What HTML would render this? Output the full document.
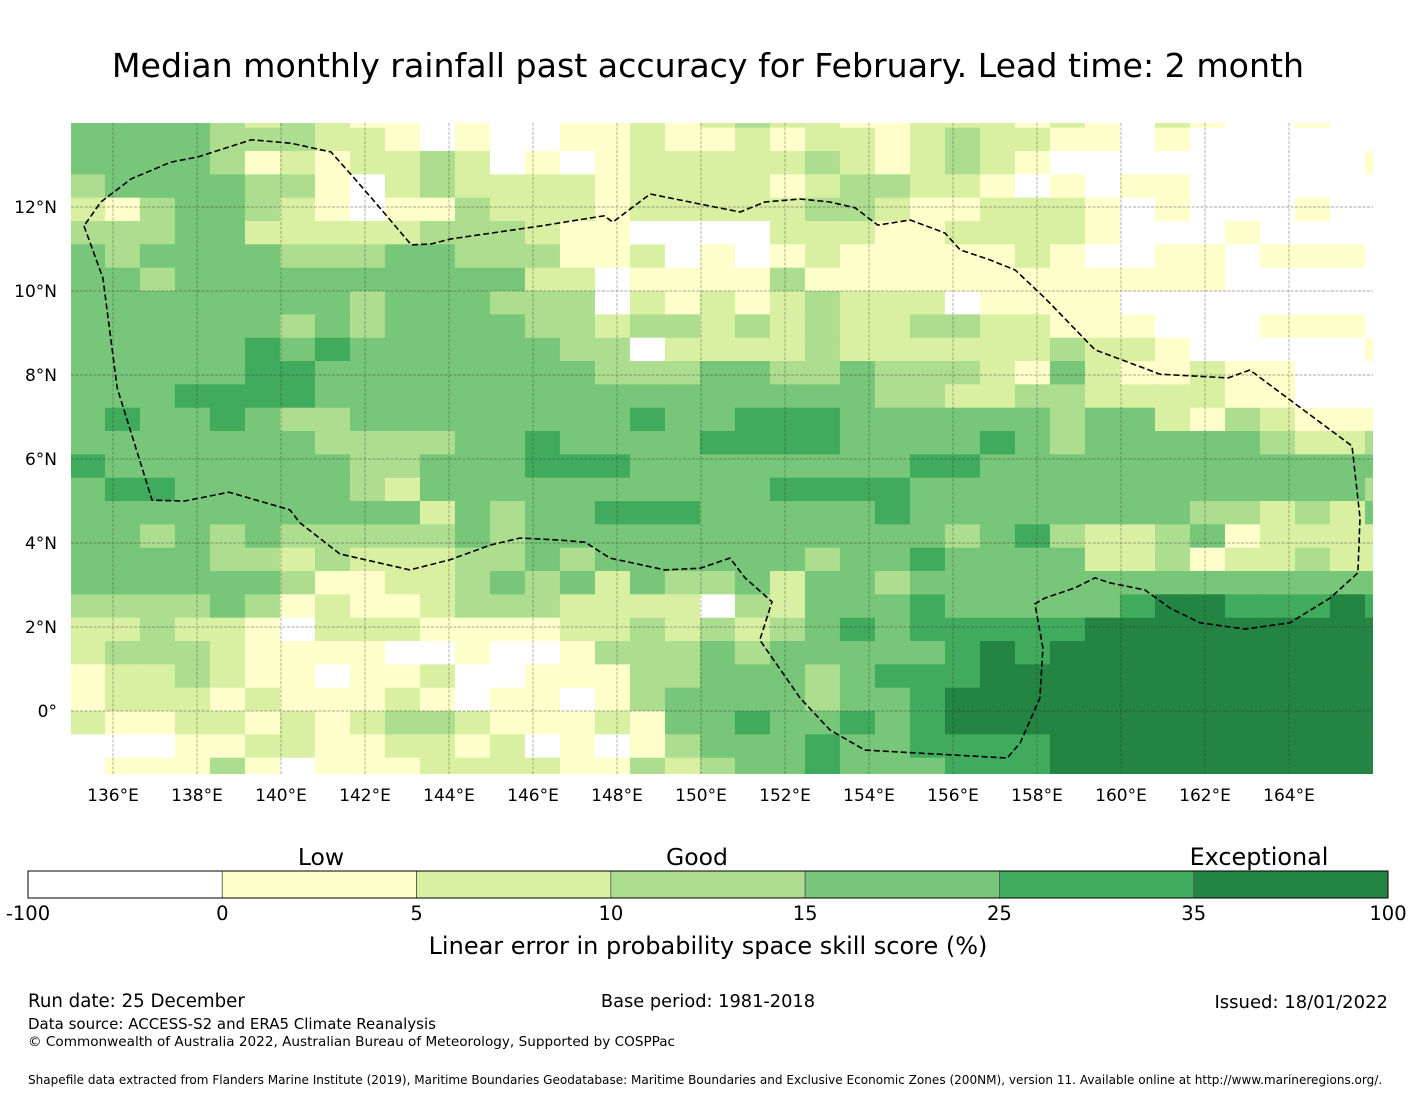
<!DOCTYPE html>
<html><head><meta charset="utf-8"><style>
body{margin:0;background:#fff;width:1416px;height:1095px;overflow:hidden;font-family:"Liberation Sans","DejaVu Sans",sans-serif}
svg text{font-family:"DejaVu Sans","Liberation Sans",sans-serif}
</style></head><body>
<svg id="chart" width="1416" height="1095" viewBox="0 0 1416 1095" xmlns="http://www.w3.org/2000/svg">
<text x="708" y="77" text-anchor="middle" font-size="33.2">Median monthly rainfall past accuracy for February. Lead time: 2 month</text>
<g id="map"></g>
<g id="axes"></g>
<g id="cbar"></g>
<text x="321" y="865" text-anchor="middle" font-size="23.5">Low</text>
<text x="697" y="865" text-anchor="middle" font-size="23.5">Good</text>
<text x="1259" y="865" text-anchor="middle" font-size="23.9">Exceptional</text>
<text x="708" y="954" text-anchor="middle" font-size="24">Linear error in probability space skill score (%)</text>
<text x="28" y="1007" font-size="18.2">Run date: 25 December</text>
<text x="708" y="1007" text-anchor="middle" font-size="17.8">Base period: 1981-2018</text>
<text x="1388" y="1008" text-anchor="end" font-size="18">Issued: 18/01/2022</text>
<text x="28" y="1029" font-size="15">Data source: ACCESS-S2 and ERA5 Climate Reanalysis</text>
<text x="28" y="1046" font-size="13.6">© Commonwealth of Australia 2022, Australian Bureau of Meteorology, Supported by COSPPac</text>
<text x="28" y="1084" font-size="12.05">Shapefile data extracted from Flanders Marine Institute (2019), Maritime Boundaries Geodatabase: Maritime Boundaries and Exclusive Economic Zones (200NM), version 11. Available online at http://www.marineregions.org/.</text>
</svg>
<script>
const colors=["#ffffff","#ffffcc","#d9f0a3","#addd8e","#78c679","#41ab5d","#238443"];
const boundsLabels=["-100","0","5","10","15","25","35","100"];
const lonTicks=[136,138,140,142,144,146,148,150,152,154,156,158,160,162,164];
const latTicks=[0,2,4,6,8,10,12];
const lonStart=134.975, latTop=14.444, dLon=0.83333, dLat=0.55556;
const r0=[4,4,4,4,3,2,3,2,1,1,0,1,0,0,1,1,2,1,2,3,2,2,1,1,2,2,2,1,2,1,0,2,1,0,0,1,0,0];
const r1=[4,4,4,4,3,3,3,2,2,1,0,1,0,0,1,1,2,1,1,2,1,2,2,1,2,3,2,2,1,1,0,1,0,0,0,0,0,0];
const r2=[4,4,4,4,3,1,2,1,2,2,3,2,0,1,0,1,2,2,2,2,2,3,2,1,2,3,2,1,0,0,0,0,0,0,0,0,0,1];
const r3=[3,4,4,4,4,3,3,1,0,2,3,2,2,2,2,1,2,2,2,2,1,2,3,3,2,2,1,0,1,0,1,1,0,0,0,0,0,0];
const r4=[2,1,3,4,4,3,2,1,0,1,1,3,2,2,2,1,2,2,2,2,2,3,3,2,1,1,2,2,2,1,0,1,0,0,0,1,0,0];
const r5=[3,3,3,4,4,2,2,2,2,2,3,3,3,2,1,1,0,0,0,0,2,2,2,1,1,2,2,2,2,1,0,0,0,1,0,0,0,0];
const r6=[4,3,4,4,4,4,3,3,3,4,4,3,3,3,1,1,2,0,1,0,1,2,1,1,1,1,1,2,1,0,0,1,1,0,1,1,1,0];
const r7=[4,4,3,4,4,4,4,4,4,4,4,4,4,2,2,0,1,1,1,1,3,1,1,1,1,1,1,1,1,1,1,1,1,0,0,0,0,0];
const r8=[4,4,4,4,4,4,4,4,3,4,4,4,3,3,3,0,2,1,2,1,2,3,2,2,2,0,1,1,1,1,0,0,0,0,0,0,0,0];
const r9=[4,4,4,4,4,4,3,4,3,4,4,4,4,3,3,2,3,3,2,3,2,3,2,2,3,3,2,2,1,1,1,0,0,0,1,1,1,0];
const r10=[4,4,4,4,4,5,4,5,4,4,4,4,4,4,3,3,0,2,2,2,2,3,2,2,2,2,2,2,3,2,2,1,0,0,0,0,0,1];
const r11=[4,4,4,4,4,5,5,4,4,4,4,4,4,4,4,3,3,3,4,4,3,3,4,3,3,3,2,1,4,2,1,1,2,1,1,0,0,0];
const r12=[4,4,4,5,5,5,5,4,4,4,4,4,4,4,4,4,4,4,4,4,4,4,4,3,3,2,2,3,3,2,2,2,2,1,1,0,0,0];
const r13=[4,5,4,4,5,4,3,3,4,4,4,4,4,4,4,4,5,4,4,5,5,5,4,4,4,4,4,4,3,4,4,2,1,3,2,1,1,1];
const r14=[4,4,4,4,4,4,4,3,3,3,3,4,4,5,4,4,4,4,5,5,5,5,4,4,4,4,5,4,3,4,4,4,4,4,3,2,2,3];
const r15=[5,4,4,4,4,4,4,4,3,3,4,4,4,5,5,5,4,4,4,4,4,4,4,4,5,5,4,4,4,4,4,4,4,4,4,4,4,4];
const r16=[4,5,5,4,4,4,4,4,3,2,4,4,4,4,4,4,4,4,4,4,5,5,5,5,4,4,4,4,4,4,4,4,4,4,4,4,4,3];
const r17=[4,4,4,4,4,4,4,4,4,4,2,4,3,4,4,5,5,5,4,4,4,4,4,5,4,4,4,4,4,4,4,4,3,3,2,3,2,4];
const r18=[4,4,3,4,3,4,3,3,3,3,3,4,3,4,4,4,4,4,4,4,4,4,4,4,4,3,4,5,3,2,2,3,4,1,2,2,2,2];
const r19=[4,4,4,4,3,3,2,3,2,2,2,3,3,4,3,4,4,4,4,4,4,3,4,4,5,4,4,4,4,2,2,3,1,2,2,3,2,2];
const r20=[4,4,4,4,4,4,3,1,1,2,2,3,4,3,4,2,4,3,3,4,2,4,4,3,4,4,4,4,4,4,4,4,4,4,4,4,4,4];
const r21=[3,3,3,3,4,3,1,2,1,1,2,3,3,3,2,2,2,2,0,3,2,4,4,4,5,4,4,4,4,4,5,6,6,5,5,5,6,5];
const r22=[2,2,3,2,2,1,0,2,2,2,1,1,1,1,2,2,3,2,3,2,3,4,5,4,5,5,5,5,5,6,6,6,6,6,6,6,6,6];
const r23=[2,3,3,3,2,1,1,1,1,0,0,1,0,0,1,3,3,3,4,3,4,4,4,4,4,5,6,5,6,6,6,6,6,6,6,6,6,6];
const r24=[1,2,2,3,2,1,1,0,1,1,2,0,0,1,1,1,3,3,4,4,4,3,4,5,5,5,6,6,6,6,6,6,6,6,6,6,6,6];
const r25=[1,2,2,2,1,2,1,1,1,2,1,0,1,1,0,1,3,4,4,4,4,3,4,4,5,6,6,6,6,6,6,6,6,6,6,6,6,6];
const r26=[2,1,1,2,2,1,2,1,2,3,3,2,1,1,1,2,1,4,4,5,4,4,5,4,5,6,6,6,6,6,6,6,6,6,6,6,6,6];
const r27=[0,0,0,1,1,2,2,1,1,2,2,1,2,0,1,0,1,3,4,4,4,5,4,4,5,5,5,5,6,6,6,6,6,6,6,6,6,6];
const r28=[0,1,1,1,3,1,0,1,1,1,2,2,2,2,1,1,3,2,3,4,4,5,4,4,4,5,5,5,6,6,6,6,6,6,6,6,6,6];
const grid=[r0,r1,r2,r3,r4,r5,r6,r7,r8,r9,r10,r11,r12,r13,r14,r15,r16,r17,r18,r19,r20,r21,r22,r23,r24,r25,r26,r27,r28];
const eezLon=[135.31,135.76,136.10,136.93,137.71,138.76,140.21,140.45,141.40,143.07,144.02,144.98,145.69,146.64,147.24,147.83,149.14,149.98,150.69,151.05,151.69,151.40,152.36,153.07,153.90,157.29,157.60,158.07,158.14,157.95,158.19,158.90,159.38,159.74,160.57,161.17,161.88,162.95,164.02,164.98,165.64,165.69,165.50,164.38,163.07,162.55,160.93,159.38,158.19,157.48,156.88,156.17,155.81,154.98,154.21,153.67,153.07,152.36,151.52,150.93,149.98,148.79,147.90,147.69,146.19,144.05,143.57,143.10,142.38,141.74,141.19,140.24,139.29,138.02,137.38,136.43,135.71,135.31];
const eezLat=[11.55,10.31,7.69,5.02,5.00,5.21,4.79,4.48,3.74,3.36,3.60,3.95,4.12,4.07,4.02,3.64,3.36,3.40,3.64,3.17,2.60,1.69,0.31,-0.45,-0.93,-1.12,-0.76,0.31,1.50,2.55,2.69,2.93,3.17,3.05,2.88,2.45,2.10,1.95,2.10,2.69,3.29,4.60,6.31,7.14,8.12,7.93,8.02,8.60,9.83,10.50,10.74,10.98,11.38,11.69,11.57,11.98,12.12,12.19,12.12,11.88,12.07,12.31,11.64,11.79,11.55,11.24,11.12,11.10,11.95,12.69,13.31,13.52,13.60,13.19,13.07,12.67,12.12,11.55];
const NS="http://www.w3.org/2000/svg";
const X=lon=>113+(lon-136)*42;
const Y=lat=>207-(lat-12)*42;
const M={l:71,r:1373,t:123,b:774};
function el(t,a,p){const e=document.createElementNS(NS,t);for(const k in a)e.setAttribute(k,a[k]);p.appendChild(e);return e;}
const map=document.getElementById('map');
const defs=el('defs',{},map);
const cp=el('clipPath',{id:'mclip'},defs);
el('rect',{x:M.l,y:M.t,width:M.r-M.l,height:M.b-M.t},cp);
const cells=el('g',{'clip-path':'url(#mclip)'},map);


grid.forEach((row,ri)=>{row.forEach((v,ci)=>{
  const x0=X(lonStart+ci*dLon),x1=X(lonStart+(ci+1)*dLon);
  const y0=Y(latTop-ri*dLat),y1=Y(latTop-(ri+1)*dLat);
  const c=el('rect',{x:x0,y:y0,width:x1-x0+0.4,height:y1-y0+0.4,fill:colors[v]},cells);
  
  
});});
const gl=el('g',{'clip-path':'url(#mclip)',stroke:'#333','stroke-width':0.7,'stroke-dasharray':'3,1.5',opacity:0.55},map);


lonTicks.forEach(l=>el('line',{x1:X(l),x2:X(l),y1:M.t,y2:M.b},gl));
latTicks.forEach(l=>el('line',{x1:M.l,x2:M.r,y1:Y(l),y2:Y(l)},gl));
const pts=eezLon.map((l,i)=>X(l).toFixed(1)+','+Y(eezLat[i]).toFixed(1)).join(' ');
const eez=el('polyline',{points:pts,fill:'none',stroke:'#000','stroke-width':1.6,'stroke-dasharray':'6,3'},map);


const ax=document.getElementById('axes');
lonTicks.forEach(l=>{const t=el('text',{x:X(l),y:801,'text-anchor':'middle','font-size':17},ax);t.textContent=l+'°E';
});
latTicks.forEach(l=>{const t=el('text',{x:57,y:Y(l)+6,'text-anchor':'end','font-size':17},ax);t.textContent=l===0?'0°':l+'°N';
});
const cb=document.getElementById('cbar');
const cbx0=28,cbx1=1388,cby=871,cbh=27,sw=(cbx1-cbx0)/colors.length;
colors.forEach((c,i)=>{const r=el('rect',{x:cbx0+i*sw,y:cby,width:sw,height:cbh,fill:c,stroke:'#555','stroke-width':0.8},cb);
});
el('rect',{x:cbx0,y:cby,width:cbx1-cbx0,height:cbh,fill:'none',stroke:'#000','stroke-width':1},cb);
boundsLabels.forEach((s,i)=>{const t=el('text',{x:cbx0+i*sw,y:920,'text-anchor':'middle','font-size':19.5},cb);t.textContent=s;
});
</script>
</body></html>
